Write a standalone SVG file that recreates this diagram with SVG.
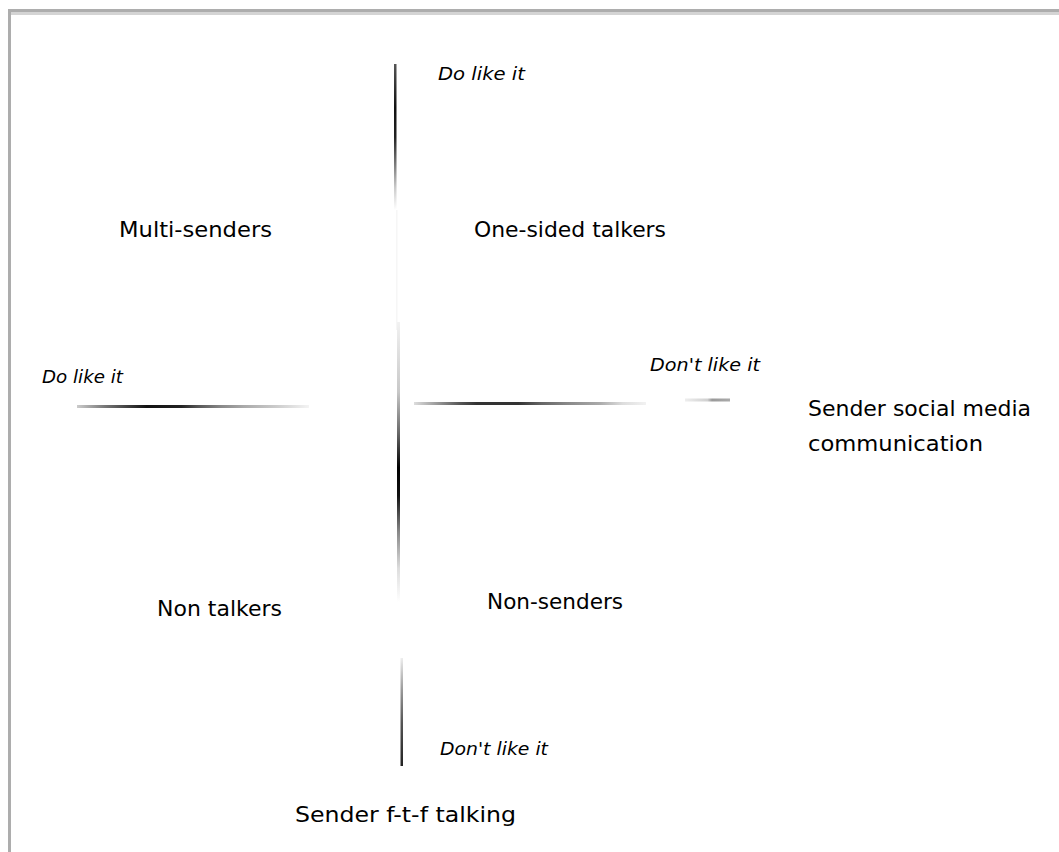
<svg xmlns="http://www.w3.org/2000/svg" width="1059" height="852" viewBox="0 0 1059 852">
  <style>
    .label { font-family: "DejaVu Sans", "Liberation Sans", sans-serif; font-size: 22px; fill: #000; }
    .note { font-family: "DejaVu Sans", "Liberation Sans", sans-serif; font-size: 18px; font-style: italic; fill: #000; }
  </style>
  <defs>
    <!-- fading axis strokes -->
    <linearGradient id="vTop" x1="0" y1="0" x2="0" y2="1">
      <stop offset="0" stop-color="#555"/>
      <stop offset="0.3" stop-color="#111"/>
      <stop offset="0.5" stop-color="#222"/>
      <stop offset="0.68" stop-color="#777"/>
      <stop offset="0.85" stop-color="#ccc"/>
      <stop offset="1" stop-color="#fff"/>
    </linearGradient>
    <linearGradient id="vMid" x1="0" y1="0" x2="0" y2="1">
      <stop offset="0" stop-color="#f2f2f2"/>
      <stop offset="0.25" stop-color="#c8c8c8"/>
      <stop offset="0.4" stop-color="#666"/>
      <stop offset="0.52" stop-color="#000"/>
      <stop offset="0.62" stop-color="#111"/>
      <stop offset="0.75" stop-color="#888"/>
      <stop offset="0.88" stop-color="#ddd"/>
      <stop offset="1" stop-color="#fff"/>
    </linearGradient>
    <linearGradient id="vLow" x1="0" y1="0" x2="0" y2="1">
      <stop offset="0" stop-color="#eee"/>
      <stop offset="0.3" stop-color="#999"/>
      <stop offset="0.6" stop-color="#555"/>
      <stop offset="1" stop-color="#222"/>
    </linearGradient>
    <linearGradient id="hLeft" x1="0" y1="0" x2="1" y2="0">
      <stop offset="0" stop-color="#ccc"/>
      <stop offset="0.12" stop-color="#777"/>
      <stop offset="0.24" stop-color="#333"/>
      <stop offset="0.3" stop-color="#111"/>
      <stop offset="0.45" stop-color="#222"/>
      <stop offset="0.52" stop-color="#555"/>
      <stop offset="0.62" stop-color="#888"/>
      <stop offset="0.72" stop-color="#aaa"/>
      <stop offset="0.86" stop-color="#ccc"/>
      <stop offset="1" stop-color="#f4f4f4"/>
    </linearGradient>
    <linearGradient id="hRight" x1="0" y1="0" x2="1" y2="0">
      <stop offset="0" stop-color="#ddd"/>
      <stop offset="0.1" stop-color="#999"/>
      <stop offset="0.2" stop-color="#555"/>
      <stop offset="0.27" stop-color="#333"/>
      <stop offset="0.45" stop-color="#333"/>
      <stop offset="0.55" stop-color="#666"/>
      <stop offset="0.66" stop-color="#888"/>
      <stop offset="0.8" stop-color="#aaa"/>
      <stop offset="0.9" stop-color="#ddd"/>
      <stop offset="1" stop-color="#f2f2f2"/>
    </linearGradient>
    <linearGradient id="hStub" x1="0" y1="0" x2="1" y2="0">
      <stop offset="0" stop-color="#eee"/>
      <stop offset="0.5" stop-color="#d0d0d0"/>
      <stop offset="0.6" stop-color="#9a9a9a"/>
      <stop offset="1" stop-color="#aaa"/>
    </linearGradient>
  </defs>

  <rect width="1059" height="852" fill="#fff"/>

  <!-- frame -->
  <g id="frame">
    <rect x="8" y="9" width="1051" height="3" fill="#adadad"/>
    <rect x="11" y="12" width="1048" height="3" fill="#d4d4d4"/>
    <rect x="8" y="9" width="3" height="843" fill="#adadad"/>
  </g>

  <!-- axes -->
  <g id="connectors">
    <rect x="394" y="64" width="2.5" height="146" fill="url(#vTop)"/>
    <rect x="396" y="210" width="1.5" height="120" fill="#f6f6f6"/>
    <rect x="397" y="322" width="3" height="280" fill="url(#vMid)"/>
    <rect x="400.5" y="658" width="2.5" height="108" fill="url(#vLow)"/>
    <rect x="77" y="405" width="232" height="3" fill="url(#hLeft)"/>
    <rect x="414" y="402" width="232" height="3" fill="url(#hRight)"/>
    <rect x="685" y="398.5" width="45" height="3" fill="url(#hStub)"/>
  </g>

  <g id="top-like"><text class="note" x="438" y="80" textLength="87" lengthAdjust="spacingAndGlyphs">Do like it</text></g>
  <g id="multi-senders"><text class="label" x="119" y="237" textLength="153" lengthAdjust="spacingAndGlyphs">Multi-senders</text></g>
  <g id="one-sided-talkers"><text class="label" x="474" y="237" textLength="192" lengthAdjust="spacingAndGlyphs">One-sided talkers</text></g>
  <g id="left-like"><text class="note" x="42" y="383" textLength="81" lengthAdjust="spacingAndGlyphs">Do like it</text></g>
  <g id="right-dislike"><text class="note" x="650" y="371" textLength="110" lengthAdjust="spacingAndGlyphs">Don't like it</text></g>
  <g id="social-media-axis">
    <text class="label" x="808" y="416" textLength="223" lengthAdjust="spacingAndGlyphs">Sender social media</text>
    <text class="label" x="808" y="451" textLength="175" lengthAdjust="spacingAndGlyphs">communication</text>
  </g>
  <g id="non-talkers"><text class="label" x="157" y="616" textLength="125" lengthAdjust="spacingAndGlyphs">Non talkers</text></g>
  <g id="non-senders"><text class="label" x="487" y="609" textLength="136" lengthAdjust="spacingAndGlyphs">Non-senders</text></g>
  <g id="bottom-dislike"><text class="note" x="440" y="755" textLength="108" lengthAdjust="spacingAndGlyphs">Don't like it</text></g>
  <g id="f2f-axis"><text class="label" x="295" y="822" textLength="221" lengthAdjust="spacingAndGlyphs">Sender f-t-f talking</text></g>
</svg>
